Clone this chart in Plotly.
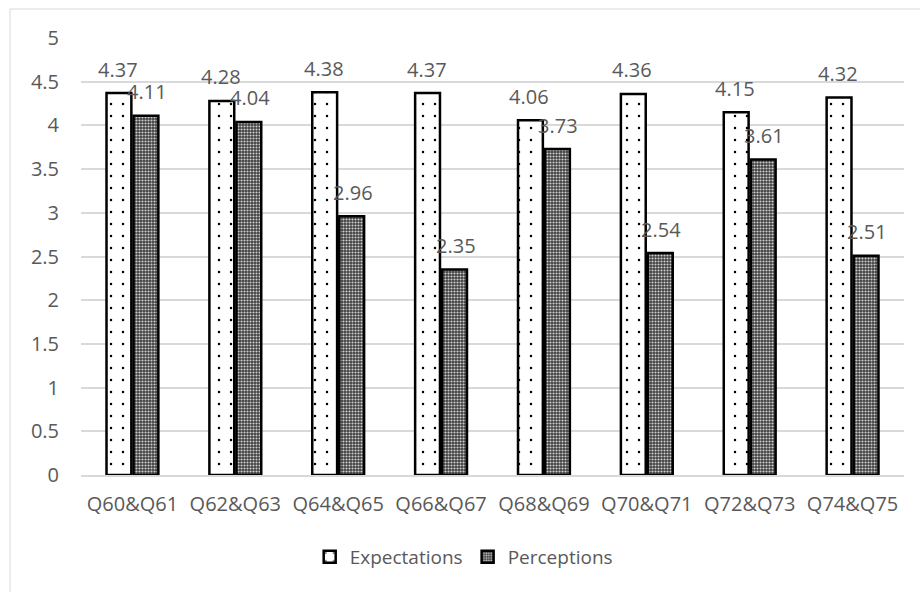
import plotly.graph_objects as go

categories = ["Q60&Q61", "Q62&Q63", "Q64&Q65", "Q66&Q67",
              "Q68&Q69", "Q70&Q71", "Q72&Q73", "Q74&Q75"]
expectations = [4.37, 4.28, 4.38, 4.37, 4.06, 4.36, 4.15, 4.32]
perceptions = [4.11, 4.04, 2.96, 2.35, 3.73, 2.54, 3.61, 2.51]
y_ticks = [0, 0.5, 1, 1.5, 2, 2.5, 3, 3.5, 4, 4.5, 5]

W, H = 920, 592
ML, MR, MT, MB = 81, 16, 38, 117
PW, PH = W - ML - MR, H - MT - MB
FONT = "Open Sans"
GREY = "#595959"

fig = go.Figure()
fig.add_trace(go.Bar(
    name="Expectations", x=categories, y=expectations,
    marker=dict(
        color="white",
        line=dict(color="black", width=2.5),
        pattern=dict(shape=".", fgcolor="black", bgcolor="white",
                     size=12, solidity=0.035, fillmode="replace"),
    ),
))
fig.add_trace(go.Bar(
    name="Perceptions", x=categories, y=perceptions,
    marker=dict(
        color="#666666",
        line=dict(color="black", width=2.5),
        pattern=dict(shape=".", fgcolor="#cfcfcf", bgcolor="#3f3f3f",
                     size=3, solidity=0.4, fillmode="replace"),
    ),
))

# value labels sit above each bar, offset to its slot in the group
slot = 14.5
for cat, e, p in zip(categories, expectations, perceptions):
    for val, dx in ((e, -slot), (p, slot)):
        fig.add_annotation(x=cat, y=val, text=f"{val:.2f}", showarrow=False,
                           xshift=dx, yshift=24,
                           font=dict(family=FONT, size=20, color=GREY))

# outer chart border
fig.add_shape(type="rect", xref="paper", yref="paper",
              x0=(10 - ML) / PW, x1=(930 - ML) / PW,
              y0=(H - MB - 600) / PH, y1=(H - MB - 9) / PH,
              line=dict(color="#d9d9d9", width=1), fillcolor="rgba(0,0,0,0)",
              layer="below")

fig.update_layout(
    width=W, height=H,
    margin=dict(l=ML, r=MR, t=MT, b=MB),
    paper_bgcolor="white", plot_bgcolor="white",
    barmode="group", bargap=0.475, bargroupgap=0.08,
    font=dict(family=FONT, size=19, color=GREY),
    showlegend=True,
    legend=dict(orientation="h", x=0.465, xanchor="center", y=-82 / PH,
                yanchor="middle", font=dict(family=FONT, size=19, color=GREY),
                itemwidth=30, tracegroupgap=10),
)
fig.update_xaxes(showgrid=False, showline=True, linecolor="#d9d9d9",
                 linewidth=1.5, ticks="", ticklabelstandoff=10,
                 tickfont=dict(size=20, color=GREY))
fig.update_yaxes(range=[0, 5], tickvals=y_ticks,
                 ticktext=[f"{t:g}" for t in y_ticks],
                 showgrid=True, gridcolor="#d9d9d9", gridwidth=1.5,
                 zeroline=False, showline=False, ticks="",
                 ticklabelstandoff=21, tickfont=dict(size=20, color=GREY))

fig.write_html("out.html")
